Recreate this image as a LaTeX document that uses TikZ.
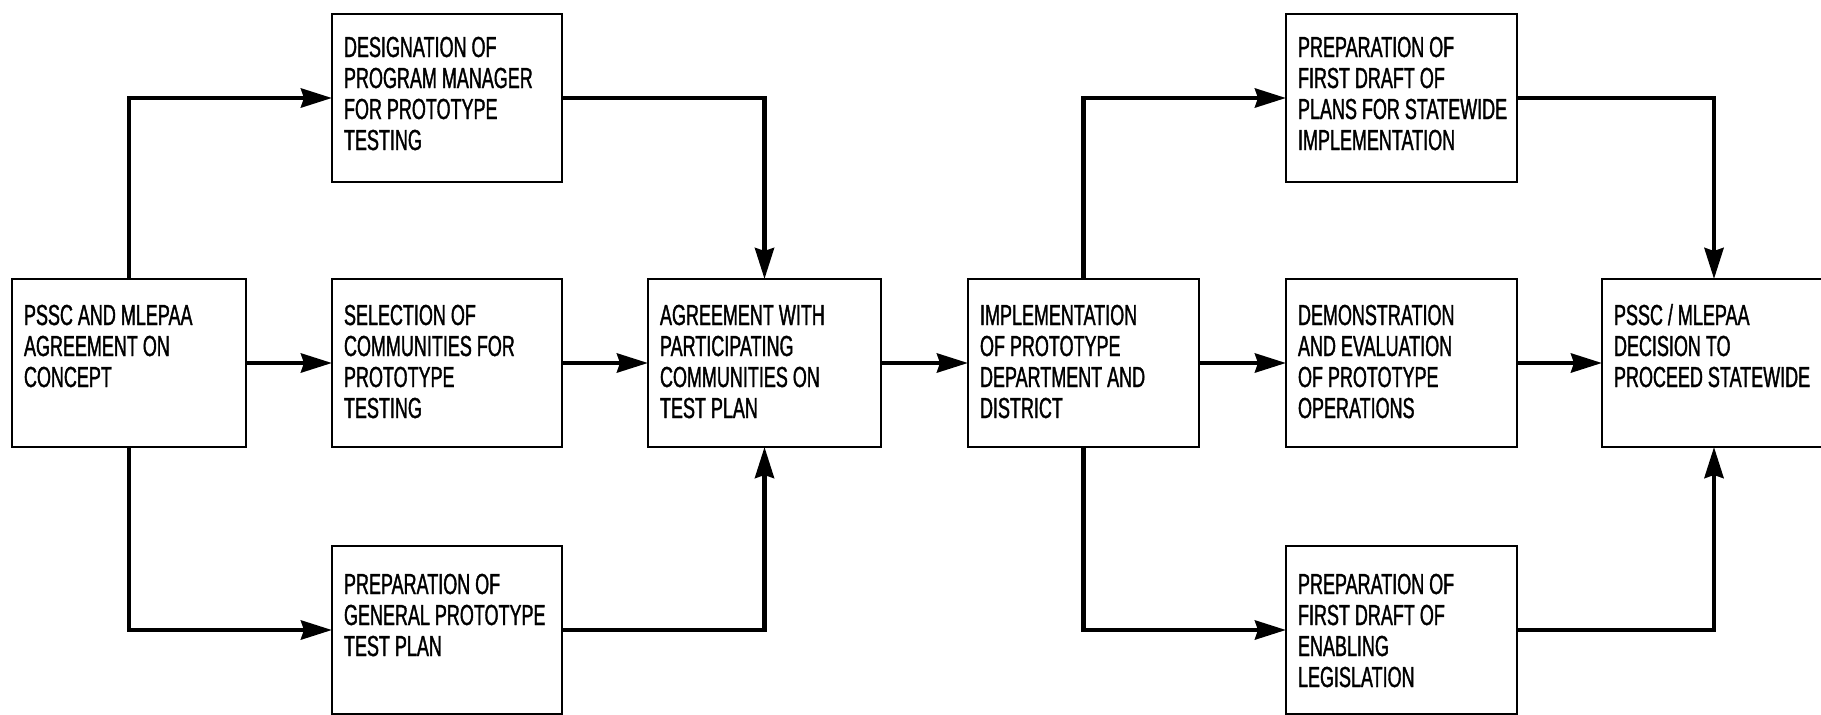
\documentclass[tikz,border=0pt]{standalone}
\usepackage{fontspec}
\setmainfont{Liberation Sans}[FakeStretch=0.62,FakeBold=1.2]
\usetikzlibrary{arrows.meta}
\newcommand{\bxt}[4]{\parbox[c][#2pt][t]{#1pt}{\raggedright\leftskip=12pt\rule{0pt}{#3pt}#4}}
\tikzset{
  pbox/.style={draw=black, line width=2pt, inner sep=0pt, outer sep=0pt, anchor=north west, font=\fontsize{29pt}{31pt}\selectfont},
  conn/.style={draw=black, line width=4.5pt, -{Stealth[length=31pt,width=19pt,inset=3pt]}},
}
\begin{document}
\begin{tikzpicture}[x=1pt,y=-1pt]
\useasboundingbox (0,0) rectangle (1821,715);
\clip (0,0) rectangle (1821,715);
% column 1
\node[pbox] (A) at (12,279) {\bxt{234}{168}{46}{PSSC AND MLEPAA\\AGREEMENT ON\\CONCEPT}};
% column 2
\node[pbox] (B1) at (332,14) {\bxt{230}{168}{43}{DESIGNATION OF\\PROGRAM MANAGER\\FOR PROTOTYPE\\TESTING}};
\node[pbox] (B2) at (332,279) {\bxt{230}{168}{46}{SELECTION OF\\COMMUNITIES FOR\\PROTOTYPE\\TESTING}};
\node[pbox] (B3) at (332,546) {\bxt{230}{168}{48}{PREPARATION OF\\GENERAL PROTOTYPE\\TEST PLAN}};
% column 3
\node[pbox] (C) at (648,279) {\bxt{233}{168}{46}{AGREEMENT WITH\\PARTICIPATING\\COMMUNITIES ON\\TEST PLAN}};
% column 4
\node[pbox] (D) at (968,279) {\bxt{231}{168}{46}{IMPLEMENTATION\\OF PROTOTYPE\\DEPARTMENT AND\\DISTRICT}};
% column 5
\node[pbox] (E1) at (1286,14) {\bxt{231}{168}{43}{PREPARATION OF\\FIRST DRAFT OF\\PLANS FOR STATEWIDE\\IMPLEMENTATION}};
\node[pbox] (E2) at (1286,279) {\bxt{231}{168}{46}{DEMONSTRATION\\AND EVALUATION\\OF PROTOTYPE\\OPERATIONS}};
\node[pbox] (E3) at (1286,546) {\bxt{231}{168}{48}{PREPARATION OF\\FIRST DRAFT OF\\ENABLING\\LEGISLATION}};
% column 6
\node[pbox] (F) at (1602,279) {\bxt{224}{168}{46}{PSSC / MLEPAA\\DECISION TO\\PROCEED STATEWIDE}};
% connectors
\draw[conn] (A.north) |- (B1.west);
\draw[conn] (A.south) |- (B3.west);
\draw[conn] (A.east) -- (B2.west);
\draw[conn] (B1.east) -| (C.north);
\draw[conn] (B2.east) -- (C.west);
\draw[conn] (B3.east) -| (C.south);
\draw[conn] (C.east) -- (D.west);
\draw[conn] (D.north) |- (E1.west);
\draw[conn] (D.south) |- (E3.west);
\draw[conn] (D.east) -- (E2.west);
\draw[conn] (E1.east) -| (F.north);
\draw[conn] (E2.east) -- (F.west);
\draw[conn] (E3.east) -| (F.south);
\end{tikzpicture}
\end{document}
